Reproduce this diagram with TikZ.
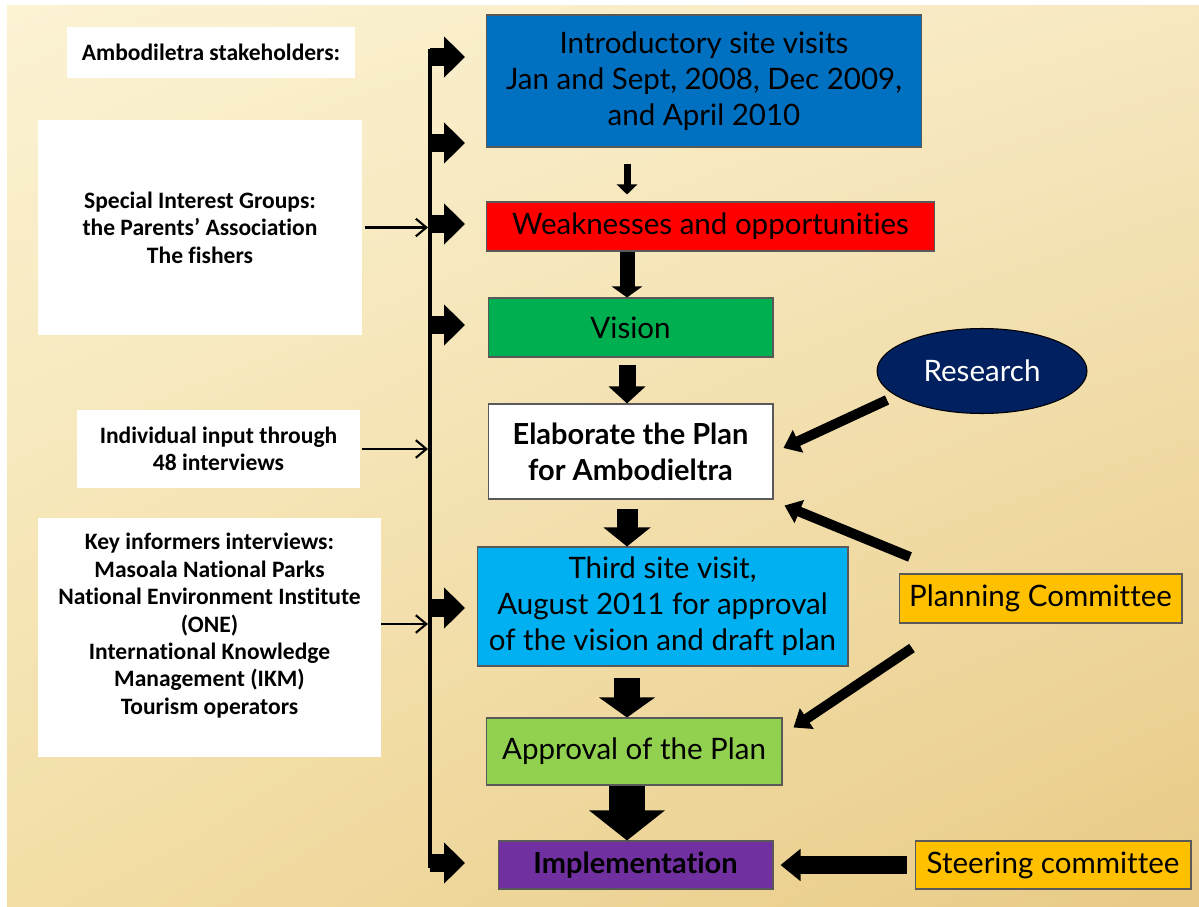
\documentclass[tikz,border=0pt]{standalone}
\usepackage{fontspec}
\setmainfont[Ligatures={TeX,NoCommon}]{Carlito}
\newfontfamily\slidefont[Ligatures={TeX,NoCommon}]{Lato}
\usetikzlibrary{arrows.meta}
\usetikzlibrary{shapes.geometric}
\usetikzlibrary{shadings}

\definecolor{bgtl}{RGB}{252,243,212}
\definecolor{bgtr}{RGB}{247,232,192}
\definecolor{bgbl}{RGB}{242,222,166}
\definecolor{bgbr}{RGB}{232,202,134}
\definecolor{introblue}{RGB}{0,112,192}
\definecolor{weakred}{RGB}{255,0,0}
\definecolor{visiongreen}{RGB}{0,176,80}
\definecolor{thirdblue}{RGB}{0,176,240}
\definecolor{approvalgreen}{RGB}{146,208,80}
\definecolor{implpurple}{RGB}{112,48,160}
\definecolor{researchnavy}{RGB}{0,32,96}
\definecolor{committee}{RGB}{255,192,0}

\tikzset{
  stakebox/.style={fill=white,align=center,inner sep=0pt,
    font=\bfseries\fontsize{13.4}{15.6}\selectfont},
  stepbox/.style={draw=black!65,line width=0.6pt,align=center,inner sep=0pt,
    text=black,font=\slidefont\fontsize{16.8}{20.5}\selectfont},
  fatarrow/.style={line width=0.36cm,-{Triangle[width=0.8cm,length=0.42cm]}},
  thinarrow/.style={line width=1.2pt,-{Straight Barb[length=6pt,width=10pt]}},
  downarrow/.style n args={3}{line width=#1,-{Triangle[width=#2,length=#3]}},
  diagarrow/.style={line width=0.2cm,-{Triangle[width=0.48cm,length=0.32cm]}},
}

\begin{document}
\begin{tikzpicture}[x=0.02cm,y=-0.02cm]
      % slide background
      \useasboundingbox (0,0) rectangle (1199,906);
      \fill[white] (0,0) rectangle (1199,906);
      \shade[upper left=bgtl,upper right=bgtr,lower left=bgbl,lower right=bgbr] (7,5) rectangle (1199,906);

      % stakeholders
      \node[stakebox,minimum width=5.76cm,minimum height=1.02cm] (stake) at (211,52.5) {Ambodiletra stakeholders:};
      \node[stakebox,minimum width=6.48cm,minimum height=4.30cm] (groups) at (200,227.5) {Special Interest Groups:\\the Parents’ Association\\The fishers};
      \node[stakebox,minimum width=5.66cm,minimum height=1.56cm] (individual) at (218.5,449) {Individual input through\\48 interviews};
      \node[stakebox,minimum width=6.86cm,minimum height=4.78cm] (informers) at (209.5,637.5) {Key informers interviews:\\Masoala National Parks\\National Environment Institute\\(ONE)\\International Knowledge\\Management (IKM)\\Tourism operators\\\mbox{}};

      % planning steps
      \node[stepbox,fill=introblue,minimum width=8.72cm,minimum height=2.64cm] (intro) at (704,81) {Introductory site visits\\Jan and Sept, 2008, Dec 2009,\\and April 2010};
      \node[stepbox,fill=weakred,minimum width=8.98cm,minimum height=0.98cm] (weak) at (710.5,226.5) {Weaknesses and opportunities};
      \node[stepbox,fill=visiongreen,minimum width=5.70cm,minimum height=1.18cm] (vision) at (630.5,327.5) {Vision};
      \node[stepbox,fill=white,font=\slidefont\bfseries\fontsize{16.5}{20.5}\selectfont,minimum width=5.70cm,minimum height=1.90cm] (plan) at (630.5,451.5) {Elaborate the Plan\\for Ambodieltra};
      \node[stepbox,fill=thirdblue,minimum width=7.42cm,minimum height=2.38cm] (third) at (662.5,606.5) {Third site visit,\\August 2011 for approval\\of the vision and draft plan};
      \node[stepbox,fill=approvalgreen,minimum width=5.92cm,minimum height=1.34cm] (approval) at (634,751.5) {Approval of the Plan};
      \node[stepbox,fill=implpurple,font=\slidefont\bfseries\fontsize{16.5}{20.5}\selectfont,minimum width=5.50cm,minimum height=0.96cm] (impl) at (635.5,865) {Implementation};

      % inputs on the right
      \node[stepbox,ellipse,fill=researchnavy,draw=black,text=white,minimum width=4.20cm,minimum height=1.70cm] (research) at (982,371) {Research};
      \node[stepbox,fill=committee,minimum width=5.66cm,minimum height=0.98cm] (planning) at (1040.5,598.5) {Planning Committee};
      \node[stepbox,fill=committee,minimum width=5.52cm,minimum height=0.96cm] (steering) at (1053,865) {Steering committee};

      % spine with its arrows
      \coordinate (spinetop) at (430,49);
      \coordinate (spinebottom) at (430,868);
      \coordinate (reach) at (465,0);
      \coordinate (s1) at (430,57);
      \coordinate (s2) at (430,143);
      \coordinate (s3) at (430,224);
      \coordinate (s4) at (430,325);
      \coordinate (s5) at (430,608);
      \coordinate (s6) at (430,863);
      \draw[line width=0.07cm] (spinetop) -- (spinebottom);
      \path[fatarrow] (s1) edge (s1 -| reach);
      \path[fatarrow] (s2) edge (s2 -| reach);
      \path[fatarrow] (s3) edge (s3 -| reach);
      \path[fatarrow] (s4) edge (s4 -| reach);
      \path[fatarrow] (s5) edge (s5 -| reach);
      \path[fatarrow] (s6) edge (s6 -| reach);

      \path[thinarrow] (groups.east) edge[shorten <=0.06cm,shorten >=0.04cm] (groups.east -| spinetop);
      \path[thinarrow] (individual.east) edge[shorten <=0.04cm,shorten >=0.04cm] (individual.east -| spinetop);
      \path[thinarrow] ([yshift=0.27cm]informers.east) edge[shorten >=0.04cm] ([yshift=0.27cm]informers.east -| spinetop);

      % flow downwards
      \coordinate (col) at (627,0);
      \draw[downarrow={0.14cm}{0.4cm}{0.2cm},shorten <=0.32cm,shorten >=0.14cm] (intro.south -| col) -- (weak.north -| col);
      \draw[downarrow={0.3cm}{0.6cm}{0.22cm}] (weak.south -| col) -- (vision.north -| col);
      \draw[downarrow={0.34cm}{0.72cm}{0.34cm},shorten <=0.14cm] (vision.south -| col) -- (plan.north -| col);
      \draw[downarrow={0.42cm}{0.92cm}{0.38cm},shorten <=0.18cm] (plan.south -| col) -- (third.north -| col);
      \draw[downarrow={0.52cm}{1.1cm}{0.4cm},shorten <=0.22cm] (third.south -| col) -- (approval.north -| col);
      \draw[downarrow={0.72cm}{1.48cm}{0.6cm}] (approval.south -| col) -- (impl.north -| col);

      % side inputs
      \coordinate (researchfoot) at (887,400);
      \coordinate (planningfoot) at (910,557);
      \coordinate (planninglow) at (912,648);
      \draw[diagarrow] (researchfoot) -- ([shift={(10,-3.5)}]plan.east);
      \draw[diagarrow] (planningfoot) -- ([shift={(11,6)}]plan.south east);
      \draw[diagarrow] (planninglow) -- ([shift={(11,10)}]approval.north east);
      \draw[downarrow={0.36cm}{0.62cm}{0.4cm},shorten <=0.16cm,shorten >=0.14cm] (steering.west) -- (impl.east);
\end{tikzpicture}
\end{document}
